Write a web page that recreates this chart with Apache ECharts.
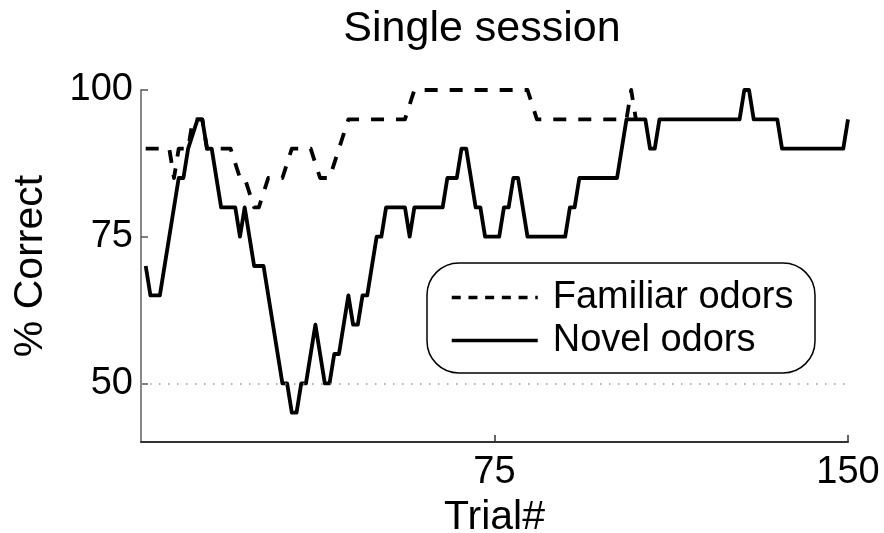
<!DOCTYPE html>
<html>
<head>
<meta charset="utf-8">
<script src="https://cdn.jsdelivr.net/npm/echarts@6/dist/echarts.min.js"></script>
<style>
  html, body { margin: 0; padding: 0; background: #fff; }
  #chart { width: 884px; height: 533px; }
</style>
</head>
<body>
<div id="chart"></div>
<script>
// Running % correct over a single session (vertices of each curve)
const novelTrials = [1, 2, 4, 8, 9, 10, 12, 13, 14, 15, 17, 20, 21, 22, 24, 26, 30, 31, 32, 33, 34, 35, 37, 39, 40, 41, 42, 44, 45, 46, 47, 48, 50, 51, 52, 56, 57, 58, 64, 65, 67, 68, 69, 71, 72, 73, 76, 77, 78, 79, 80, 82, 90, 91, 92, 93, 101, 103, 107, 108, 109, 110, 127, 128, 129, 130, 135, 136, 149, 150];
const novelPct = [70, 65, 65, 85, 85, 90, 95, 95, 90, 90, 80, 80, 75, 80, 70, 70, 50, 50, 45, 45, 50, 50, 60, 50, 50, 55, 55, 65, 60, 60, 65, 65, 75, 75, 80, 80, 75, 80, 80, 85, 85, 90, 90, 80, 80, 75, 75, 80, 80, 85, 85, 75, 75, 80, 80, 85, 85, 95, 95, 90, 90, 95, 95, 100, 100, 95, 95, 90, 90, 95];

const familiarTrials = [1, 6, 7, 8, 10, 11, 13, 14, 19, 21, 22, 24, 25, 27, 30, 32, 36, 38, 40, 44, 56, 58, 82, 84, 103, 104, 105];
const familiarPct = [90, 90, 85, 90, 90, 95, 95, 90, 90, 85, 85, 80, 80, 85, 85, 90, 90, 85, 85, 95, 95, 100, 100, 95, 95, 100, 95];

const xTickLabels = [75, 150];
const yTickLabels = [50, 75, 100];
const chanceLevel = 50;

const seriesNames = ['Familiar odors', 'Novel odors'];

const zip = (xs, ys) => xs.map((x, i) => [x, ys[i]]);

const chart = echarts.init(document.getElementById('chart'), null, { renderer: 'canvas' });

const FONT = 'Liberation Sans';

chart.setOption({
  animation: false,
  backgroundColor: '#fff',
  color: ['#000', '#000'],
  title: {
    text: 'Single session',
    left: 477,
    textAlign: 'center',
    top: 3,
    textStyle: { fontFamily: FONT, fontSize: 43, fontWeight: 'normal', color: '#000' }
  },
  grid: { left: 141, right: 36, top: 90, bottom: 91, containLabel: false, outerBoundsMode: 'none' },
  xAxis: {
    type: 'value',
    min: 0,
    max: 150,
    name: 'Trial#',
    nameLocation: 'middle',
    nameGap: 46,
    nameTextStyle: { fontFamily: FONT, fontSize: 41, color: '#000' },
    axisLine: { show: true, onZero: false, lineStyle: { color: '#333', width: 2 } },
    axisTick: { show: true, inside: true, length: 7, customValues: xTickLabels, lineStyle: { color: '#333', width: 1.5 } },
    axisLabel: { customValues: xTickLabels, margin: 12, fontFamily: FONT, fontSize: 38, color: '#000' },
    splitLine: { show: false }
  },
  yAxis: {
    type: 'value',
    min: 40,
    max: 100,
    name: '% Correct',
    nameLocation: 'middle',
    nameRotate: 90,
    nameGap: 90,
    nameTextStyle: { fontFamily: FONT, fontSize: 41, color: '#000' },
    axisLine: { show: true, onZero: false, lineStyle: { color: '#888', width: 2 } },
    axisTick: { show: true, inside: true, length: 7, customValues: yTickLabels, lineStyle: { color: '#555', width: 1.5 } },
    axisLabel: { customValues: yTickLabels, margin: 8, fontFamily: FONT, fontSize: 38, color: '#000' },
    splitLine: { show: false }
  },
  legend: {
    orient: 'vertical',
    left: 450,
    top: 277,
    padding: 0,
    itemGap: 2,
    itemWidth: 86,
    itemHeight: 14,
    itemStyle: { opacity: 0 },
    data: [
      { name: seriesNames[0], lineStyle: { type: [9, 7.7], width: 3.5 } },
      { name: seriesNames[1], lineStyle: { width: 3.5 } }
    ],
    textStyle: { fontFamily: FONT, fontSize: 38, color: '#000', lineHeight: 41, padding: [0, 0, 0, 10] }
  },
  graphic: [
    {
      type: 'rect',
      z: 0,
      shape: { x: 427, y: 263, width: 388, height: 110, r: 32 },
      style: { fill: '#fff', stroke: '#000', lineWidth: 1.5 }
    }
  ],
  series: [
    {
      name: seriesNames[0],
      type: 'line',
      data: zip(familiarTrials, familiarPct),
      symbol: 'none',
      z: 3,
      itemStyle: { color: '#000' },
      lineStyle: { color: '#000', width: 3.8, type: [13, 12], join: 'round' }
    },
    {
      name: seriesNames[1],
      type: 'line',
      data: zip(novelTrials, novelPct),
      symbol: 'none',
      z: 4,
      itemStyle: { color: '#000' },
      lineStyle: { color: '#000', width: 3.8, type: 'solid', join: 'round' },
      markLine: {
        silent: true,
        symbol: 'none',
        label: { show: false },
        lineStyle: { color: '#999', width: 1.5, type: [1.5, 7.5] },
        data: [{ yAxis: chanceLevel }]
      }
    }
  ]
});
</script>
</body>
</html>
